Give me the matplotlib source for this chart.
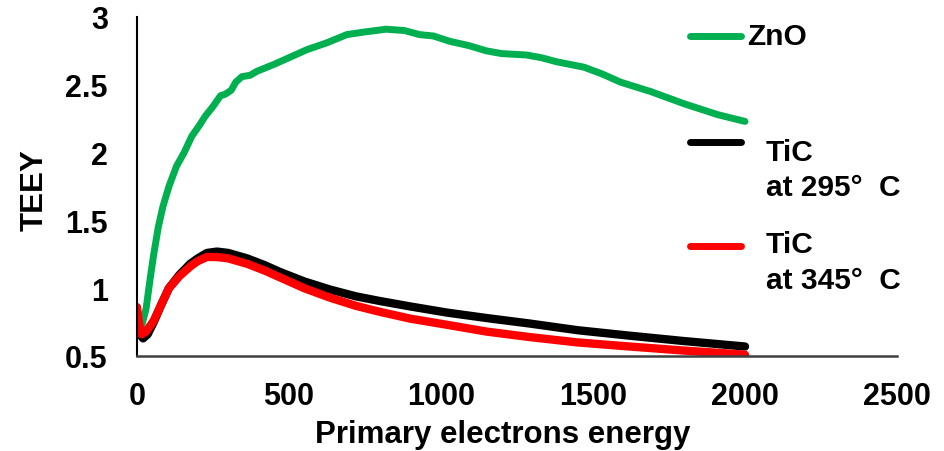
import matplotlib.pyplot as plt
from matplotlib.lines import Line2D

plt.rcParams['font.family'] = ['Liberation Sans', 'DejaVu Sans']
plt.rcParams['font.weight'] = 'bold'

# TEEY vs primary electron energy
zno_e = [15, 30, 42, 55, 70, 85, 105, 130, 155, 180, 205, 225, 250, 275, 290,
         310, 325, 345, 372, 395, 450, 500, 560, 625, 690, 750, 820, 880, 930,
         975, 1030, 1090, 1150, 1200, 1280, 1330, 1380, 1470, 1530, 1590, 1690,
         1800, 1910, 2000]
zno_y = [0.72, 0.85, 1.05, 1.25, 1.45, 1.60, 1.75, 1.90, 2.00, 2.12, 2.20, 2.27,
         2.34, 2.42, 2.43, 2.46, 2.52, 2.56, 2.57, 2.60, 2.65, 2.70, 2.76, 2.81,
         2.87, 2.89, 2.91, 2.90, 2.87, 2.86, 2.82, 2.79, 2.75, 2.73, 2.72, 2.70,
         2.67, 2.63, 2.58, 2.52, 2.45, 2.36, 2.28, 2.23]

tic295_e = [0, 10, 20, 35, 55, 80, 105, 140, 175, 200, 230, 263, 300, 362, 420,
            470, 550, 635, 720, 800, 900, 1020, 1150, 1290, 1450, 1620, 1800, 2000]
tic295_y = [0.72, 0.66, 0.63, 0.66, 0.75, 0.88, 1.00, 1.10, 1.18, 1.22, 1.26,
            1.27, 1.26, 1.22, 1.17, 1.12, 1.05, 0.99, 0.94, 0.905, 0.865, 0.82,
            0.78, 0.74, 0.69, 0.65, 0.61, 0.57]

tic345_e = [0, 8, 15, 30, 55, 80, 105, 140, 175, 200, 230, 263, 300, 362, 420,
            470, 550, 635, 720, 800, 900, 1020, 1150, 1290, 1450, 1620, 1800, 2000]
tic345_y = [0.86, 0.72, 0.66, 0.68, 0.76, 0.88, 1.00, 1.09, 1.16, 1.20, 1.23,
            1.23, 1.22, 1.18, 1.13, 1.08, 1.00, 0.93, 0.87, 0.825, 0.775, 0.73,
            0.68, 0.64, 0.60, 0.57, 0.54, 0.51]

xticks = [0, 500, 1000, 1500, 2000, 2500]
yticks = [0.5, 1, 1.5, 2, 2.5, 3]
ytick_labels = ['0.5', '1', '1.5', '2', '2.5', '3']

green = '#00B050'
red = '#FF0000'
tick_fs = 22
label_fs = 22.5
leg_fs = 21.5

fig = plt.figure(figsize=(9.44, 4.52), dpi=100)
ax = fig.add_axes([137 / 944, 1 - 357 / 452, 760 / 944, 339 / 452])

ax.plot(zno_e, zno_y, color=green, lw=5, solid_capstyle='round')
ax.plot(tic295_e, tic295_y, color='black', lw=6, solid_capstyle='round')
ax.plot(tic345_e, tic345_y, color=red, lw=6, solid_capstyle='round')

ax.set_xlim(0, 2500)
ax.set_ylim(0.5, 3)
ax.set_xticks(xticks)
ax.set_xticklabels([str(v) for v in xticks])
ax.set_yticks(yticks)
ax.set_yticklabels(ytick_labels)
ax.tick_params(length=0, labelsize=tick_fs)
ax.tick_params(axis='y', pad=21)
ax.tick_params(axis='x', pad=18)
for lab in ax.get_xticklabels() + ax.get_yticklabels():
    lab.set_fontweight('bold')

for side in ['top', 'right']:
    ax.spines[side].set_visible(False)
ax.spines['left'].set_linewidth(1.5)
ax.spines['left'].set_color('black')
ax.spines['bottom'].set_linewidth(1.8)
ax.spines['bottom'].set_color('#404040')

fig.text(503 / 944, 1 - 435 / 452, 'Primary electrons energy', fontsize=label_fs,
         fontweight='bold', ha='center', va='center')
fig.text(35 / 944, 1 - 190 / 452, 'TEEY', fontsize=label_fs, fontweight='bold',
         rotation=90, ha='center', va='center')

# legend drawn by hand, labels wrap like the spreadsheet legend
def legend_line(y, color):
    fig.add_artist(Line2D([690 / 944, 741 / 944], [1 - y / 452, 1 - y / 452],
                          color=color, lw=5, solid_capstyle='round'))

legend_line(37, green)
fig.text(747 / 944, 1 - 37 / 452, 'ZnO', fontsize=leg_fs, fontweight='bold',
         ha='left', va='center')
legend_line(143, 'black')
fig.text(766 / 944, 1 - 153 / 452, 'TiC', fontsize=leg_fs, fontweight='bold',
         ha='left', va='center')
fig.text(766 / 944, 1 - 188 / 452, 'at 295°  C', fontsize=leg_fs,
         fontweight='bold', ha='left', va='center')
legend_line(247, red)
fig.text(766 / 944, 1 - 245 / 452, 'TiC', fontsize=leg_fs, fontweight='bold',
         ha='left', va='center')
fig.text(766 / 944, 1 - 281 / 452, 'at 345°  C', fontsize=leg_fs,
         fontweight='bold', ha='left', va='center')

fig.savefig('out.png', dpi=100)
